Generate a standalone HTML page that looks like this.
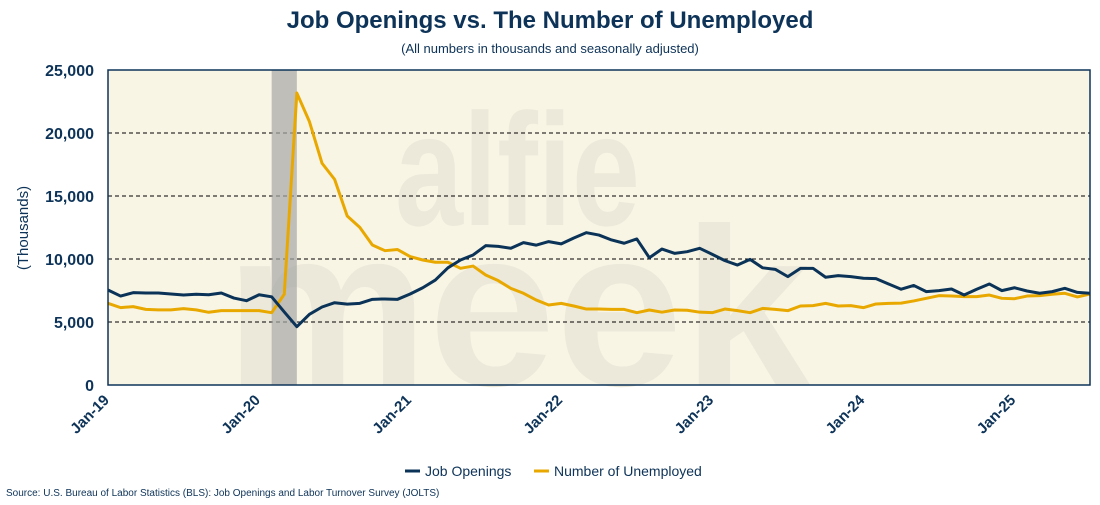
<!DOCTYPE html>
<html><head><meta charset="utf-8"><style>
body{margin:0;background:#fff;width:1100px;height:500px;overflow:hidden;font-family:"Liberation Sans",sans-serif}
</style></head><body>
<svg id="chart" width="1100" height="500" xmlns="http://www.w3.org/2000/svg" font-family="Liberation Sans, sans-serif">
<text x="550" y="28" text-anchor="middle" font-size="24" font-weight="bold" fill="#0d3358">Job Openings vs. The Number of Unemployed</text>
<text x="550" y="53" text-anchor="middle" font-size="13" fill="#0d3358">(All numbers in thousands and seasonally adjusted)</text>
<rect x="108" y="70" width="982" height="315" fill="#f8f5e5"/>
<g id="wm" fill="#ece9da" font-weight="bold">
<text x="395" y="225" font-size="160" textLength="245" lengthAdjust="spacingAndGlyphs">alfie</text>
<text x="225" y="385" font-size="225" textLength="585" lengthAdjust="spacingAndGlyphs">meek</text>
</g>
<g id="grid"></g>
<rect id="rec" y="70" height="315" fill="#a6a6a6" opacity="0.7"/>
<g id="lines"></g>
<rect x="108" y="70" width="982" height="315" fill="none" stroke="#0d3358" stroke-width="1.5"/>
<g id="yt"></g><g id="xt"></g>
<text transform="translate(28,228) rotate(-90)" text-anchor="middle" font-size="15" fill="#0d3358">(Thousands)</text>
<g>
<line x1="405" y1="471" x2="420" y2="471" stroke="#0b3358" stroke-width="3"/>
<text x="425" y="476" font-size="14" fill="#0d3358">Job Openings</text>
<line x1="534" y1="471" x2="549" y2="471" stroke="#e8a800" stroke-width="3"/>
<text x="554" y="476" font-size="14" fill="#0d3358">Number of Unemployed</text>
</g>
<text x="6" y="496" font-size="10" fill="#0d3358">Source: U.S. Bureau of Labor Statistics (BLS): Job Openings and Labor Turnover Survey (JOLTS)</text>
</svg>
<script>
const openings=[7540,7060,7330,7300,7300,7220,7140,7200,7160,7300,6900,6690,7160,7000,5800,4630,5610,6190,6530,6420,6480,6800,6830,6800,7220,7720,8330,9300,9920,10320,11060,11000,10850,11300,11100,11380,11200,11670,12090,11900,11510,11250,11590,10100,10790,10450,10580,10850,10370,9870,9520,9970,9300,9180,8600,9260,9260,8550,8680,8600,8470,8440,8020,7600,7900,7410,7490,7620,7140,7600,8020,7490,7720,7460,7280,7410,7670,7350,7280];
const unemployed=[6480,6140,6220,6000,5960,5960,6060,5960,5770,5900,5900,5900,5900,5740,7200,23170,20900,17600,16320,13410,12510,11110,10660,10750,10190,9920,9740,9740,9260,9440,8730,8280,7670,7280,6750,6350,6480,6270,6030,6030,6000,6000,5740,5950,5780,5950,5930,5780,5740,6030,5900,5740,6080,6000,5900,6270,6300,6480,6270,6300,6140,6430,6480,6500,6670,6880,7090,7060,7010,7010,7140,6880,6850,7060,7090,7200,7280,6990,7220];
const yTicks=[0,5000,10000,15000,20000,25000];
const xLabels=["Jan-19","Jan-20","Jan-21","Jan-22","Jan-23","Jan-24","Jan-25"];
const xLabelIdx=[0,12,24,36,48,60,72];
const recession=[13,15];
const NS="http://www.w3.org/2000/svg";
const X=i=>108+i*(982/78);
const Y=v=>385-v/25000*315;
function mk(t,a,p){const e=document.createElementNS(NS,t);for(const k in a)e.setAttribute(k,a[k]);p.appendChild(e);return e;}
const grid=document.getElementById('grid'),yt=document.getElementById('yt'),xt=document.getElementById('xt'),lines=document.getElementById('lines');
yTicks.forEach(v=>{
 if(v>0&&v<25000){const g=mk('line',{x1:108,x2:1090,y1:Y(v),y2:Y(v),stroke:'#000','stroke-width':1,'stroke-dasharray':'4,3'},grid);
 
 }
 const t=mk('text',{x:94,y:Y(v)+6,'text-anchor':'end','font-size':16,'font-weight':'bold',fill:'#0d3358'},yt);
 t.textContent=v.toLocaleString('en-US');
 
 
});
xLabels.forEach((s,k)=>{
 const x=X(xLabelIdx[k]);
 const t=mk('text',{transform:`translate(${x+2},${401}) rotate(-45)`,'text-anchor':'end','font-size':15,'font-weight':'bold',fill:'#0d3358'},xt);
 t.textContent=s;
 
 
});
const rec=document.getElementById('rec');rec.setAttribute('x',X(recession[0]));rec.setAttribute('width',X(recession[1])-X(recession[0]));
function line(d,c,n){const p=mk('polyline',{points:d.map((v,i)=>X(i)+','+Y(v)).join(' '),fill:'none',stroke:c,'stroke-width':3,'stroke-linejoin':'round'},lines);
 
 }
line(unemployed,'#e8a800','unemployed-line');
line(openings,'#0b3358','job-openings-line');
</script>
</body></html>
